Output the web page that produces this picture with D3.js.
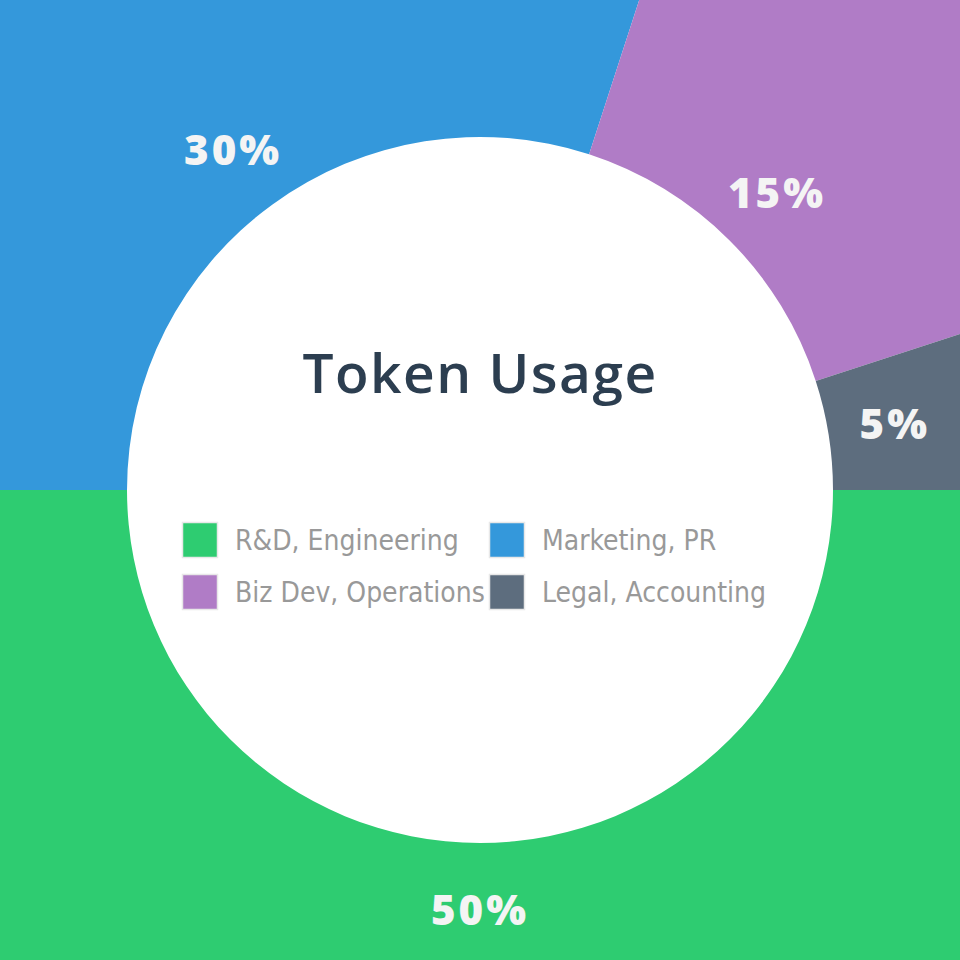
<!DOCTYPE html>
<html><head><meta charset="utf-8">
<script src="https://cdn.jsdelivr.net/npm/d3@7"></script>
<style>html,body{margin:0;padding:0;background:#fff;overflow:hidden}</style>
</head><body>
<svg id="chart" width="960" height="960"></svg>
<script>
const categories = ["R&D, Engineering", "Marketing, PR", "Biz Dev, Operations", "Legal, Accounting"];
const values = [50, 30, 15, 5];
const colors = ["#2ecc71", "#3498db", "#b07cc6", "#5d6d7e"];
const title = "Token Usage";

const svg = d3.select("#chart");
const cx = 480, cy = 490;
const g = svg.append("g").attr("transform", `translate(${cx},${cy})`);

const pie = d3.pie().sort(null).value(d => d.value)
  .startAngle(Math.PI / 2).endAngle(Math.PI / 2 + 2 * Math.PI);
const data = categories.map((c, i) => ({ name: c, value: values[i], color: colors[i] }));
const arcs = pie(data);
const arc = d3.arc().innerRadius(353).outerRadius(720);
const labelArc = d3.arc().innerRadius(420).outerRadius(420);
const total = d3.sum(values);

g.selectAll("path.slice").data(arcs).join("path")
  .attr("class", "slice").attr("d", arc).attr("fill", d => d.data.color);

g.selectAll("text.pct").data(arcs).join("text")
  .attr("class", "pct")
  .attr("transform", d => `translate(${labelArc.centroid(d)})`)
  .attr("text-anchor", "middle").attr("dy", "0.36em")
  .attr("fill", "#f4f4f4")
  .style("font-family", "'Open Sans', sans-serif")
  .style("font-weight", 800).style("font-size", "42px")
  .style("letter-spacing", "3px")
  .text(d => Math.round(d.data.value / total * 100) + "%");

g.append("text").attr("x", 0).attr("y", -97).attr("text-anchor", "middle")
  .attr("fill", "#2c3e50")
  .style("font-family", "'Open Sans', sans-serif")
  .style("font-weight", 600).style("font-size", "55px")
  .style("letter-spacing", "1.5px")
  .text(title);

const legend = svg.append("g");
const colX = [182, 489], rowY = [522, 574];
const items = legend.selectAll("g.item").data(data).join("g").attr("class", "item")
  .attr("transform", (d, i) => `translate(${colX[i % 2]},${rowY[Math.floor(i / 2)]})`);
items.append("rect").attr("x", 0.5).attr("y", 0.5).attr("width", 35).attr("height", 35)
  .attr("fill", d => d.color).attr("stroke", "#e8e8e8").attr("stroke-width", 1.5);
items.append("text").attr("x", 53).attr("y", 18).attr("dy", "0.35em")
  .attr("fill", "#999")
  .style("font-family", "'DejaVu Sans Condensed', 'Liberation Sans Narrow', sans-serif")
  .style("font-stretch", "condensed")
  .style("font-size", "28px")
  .text(d => d.name);
</script>
</body></html>
